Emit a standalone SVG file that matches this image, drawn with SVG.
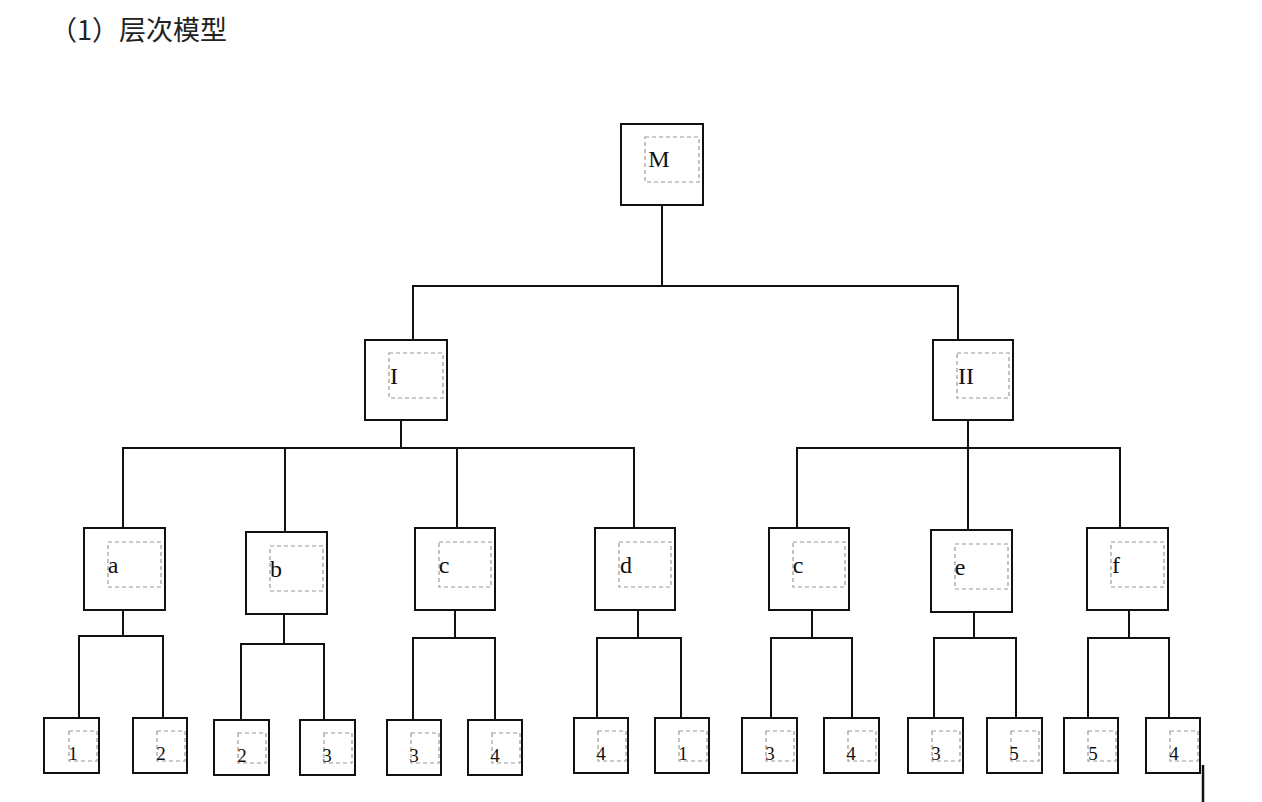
<svg xmlns="http://www.w3.org/2000/svg" width="1262" height="802" viewBox="0 0 1262 802">
<style>
.b{fill:#fff;stroke:#111;stroke-width:2}
.d{fill:none;stroke:#999;stroke-width:1.2;stroke-dasharray:4 3}
.t{font-family:"Liberation Serif",serif;font-size:24px;fill:#111;text-anchor:middle}
.s{font-family:"Liberation Serif",serif;font-size:19px;fill:#111;text-anchor:middle}
#c path{fill:none;stroke:#111;stroke-width:2}
</style>
<rect width="1262" height="802" fill="#fff"/>
<text x="50" y="40" font-family="Noto Sans CJK SC, sans-serif" font-size="27" fill="#222">（1）层次模型</text>
<g id="c">
<path d="M662 205V286M413 340V286H958V340"/>
<path d="M401 420V448M123 528V448H634V528M285 448V532M457 448V528"/>
<path d="M968 420V448M797 528V448H1120V528M968 448V530"/>
<path d="M123 610V636M79 718V636H163V718"/>
<path d="M284 614V644M241 720V644H324V720"/>
<path d="M455 610V638M413 720V638H495V720"/>
<path d="M638 610V638M597 718V638H681V718"/>
<path d="M812 610V638M771 718V638H852V718"/>
<path d="M974 612V638M934 718V638H1016V718"/>
<path d="M1129 610V638M1088 718V638H1169V718"/>
<path d="M1203 765V802" style="stroke-width:2.5"/>
</g>
<g id="nM"><rect class="b" x="621" y="124" width="82" height="81"/><rect class="d" x="645" y="137" width="54" height="45"/><text class="t" x="659" y="167">M</text></g>
<g id="nI"><rect class="b" x="365" y="340" width="82" height="80"/><rect class="d" x="389" y="353" width="54" height="45"/><text class="t" x="394" y="384">I</text></g>
<g id="nII"><rect class="b" x="933" y="340" width="80" height="80"/><rect class="d" x="957" y="353" width="52" height="45"/><text class="t" x="966" y="384">II</text></g>
<g id="na"><rect class="b" x="84" y="528" width="81" height="82"/><rect class="d" x="108" y="542" width="53" height="45"/><text class="t" x="113" y="573">a</text></g>
<g id="nb"><rect class="b" x="246" y="532" width="81" height="82"/><rect class="d" x="270" y="546" width="53" height="45"/><text class="t" x="276" y="577">b</text></g>
<g id="nc1"><rect class="b" x="415" y="528" width="80" height="82"/><rect class="d" x="439" y="542" width="52" height="45"/><text class="t" x="444" y="573">c</text></g>
<g id="nd"><rect class="b" x="595" y="528" width="80" height="82"/><rect class="d" x="619" y="542" width="52" height="45"/><text class="t" x="626" y="573">d</text></g>
<g id="nc2"><rect class="b" x="769" y="528" width="80" height="82"/><rect class="d" x="793" y="542" width="52" height="45"/><text class="t" x="798" y="573">c</text></g>
<g id="ne"><rect class="b" x="931" y="530" width="81" height="82"/><rect class="d" x="955" y="544" width="53" height="45"/><text class="t" x="960" y="575">e</text></g>
<g id="nf"><rect class="b" x="1087" y="528" width="81" height="82"/><rect class="d" x="1111" y="542" width="53" height="45"/><text class="t" x="1116" y="573">f</text></g>
<g id="l1"><rect class="b" x="44" y="718" width="55" height="55"/><rect class="d" x="69" y="731" width="28" height="30"/><text class="s" x="73" y="760">1</text></g>
<g id="l2"><rect class="b" x="133" y="718" width="54" height="55"/><rect class="d" x="157" y="731" width="28" height="30"/><text class="s" x="161" y="760">2</text></g>
<g id="l3"><rect class="b" x="214" y="720" width="55" height="55"/><rect class="d" x="238" y="733" width="28" height="30"/><text class="s" x="242" y="762">2</text></g>
<g id="l4"><rect class="b" x="300" y="720" width="55" height="55"/><rect class="d" x="324" y="733" width="28" height="30"/><text class="s" x="327" y="762">3</text></g>
<g id="l5"><rect class="b" x="387" y="720" width="54" height="55"/><rect class="d" x="411" y="733" width="28" height="30"/><text class="s" x="414" y="762">3</text></g>
<g id="l6"><rect class="b" x="468" y="720" width="54" height="55"/><rect class="d" x="492" y="733" width="28" height="30"/><text class="s" x="495" y="762">4</text></g>
<g id="l7"><rect class="b" x="574" y="718" width="54" height="55"/><rect class="d" x="598" y="731" width="28" height="30"/><text class="s" x="601" y="760">4</text></g>
<g id="l8"><rect class="b" x="655" y="718" width="54" height="55"/><rect class="d" x="679" y="731" width="28" height="30"/><text class="s" x="683" y="760">1</text></g>
<g id="l9"><rect class="b" x="742" y="718" width="55" height="55"/><rect class="d" x="766" y="731" width="28" height="30"/><text class="s" x="770" y="760">3</text></g>
<g id="l10"><rect class="b" x="824" y="718" width="55" height="55"/><rect class="d" x="848" y="731" width="28" height="30"/><text class="s" x="851" y="760">4</text></g>
<g id="l11"><rect class="b" x="908" y="718" width="55" height="55"/><rect class="d" x="932" y="731" width="28" height="30"/><text class="s" x="936" y="760">3</text></g>
<g id="l12"><rect class="b" x="987" y="718" width="55" height="55"/><rect class="d" x="1011" y="731" width="28" height="30"/><text class="s" x="1014" y="760">5</text></g>
<g id="l13"><rect class="b" x="1064" y="718" width="54" height="55"/><rect class="d" x="1088" y="731" width="28" height="30"/><text class="s" x="1093" y="760">5</text></g>
<g id="l14"><rect class="b" x="1146" y="718" width="54" height="55"/><rect class="d" x="1170" y="731" width="28" height="30"/><text class="s" x="1174" y="760">4</text></g>
</svg>
